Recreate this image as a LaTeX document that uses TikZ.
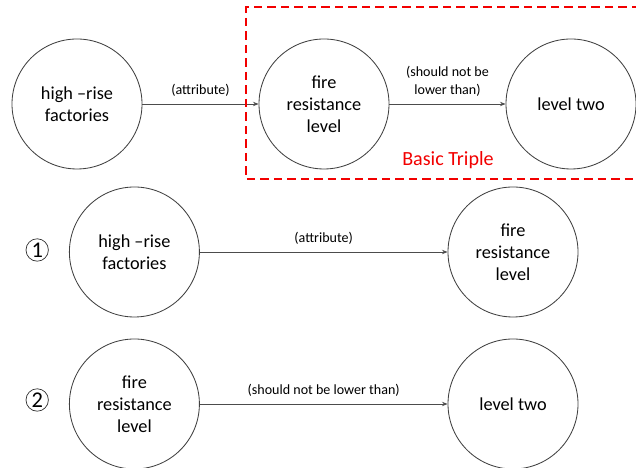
\documentclass[tikz,border=0pt]{standalone}
\usepackage{fontspec}
\setmainfont{Carlito}
\usepackage{xcolor}
\usetikzlibrary{arrows.meta, positioning}

\begin{document}
\begin{tikzpicture}[
    concept/.style={circle, draw=black!75, line width=0.6pt, minimum size=3.25cm, inner sep=0pt, align=center, font=\fontsize{13}{15.6}\selectfont},
    rel/.style={draw=black!70, line width=0.6pt, -{Stealth[length=1.4mm, width=1.1mm]}},
    lbl/.style={font=\fontsize{10}{12.8}\selectfont, align=center, above=0.5mm},
    num/.style={circle, draw=black!80, line width=0.5pt, minimum size=0.56cm, inner sep=0pt, font=\fontsize{16}{16}\selectfont},
    triple/.style={draw=red!95!black, line width=1.3pt, dash pattern=on 6pt off 3.6pt}
]
    \useasboundingbox (0,0) rectangle (15.9,11.7);

    % Basic triple
    \node[concept] (A1) at (1.925, 9.1) {high –rise\\factories};
    \node[concept] (A2) at (8.1, 9.1) {fire\\resistance\\level};
    \node[concept] (A3) at (14.275, 9.1) {level two};

    \draw[rel] (A1) -- node[lbl] {(attribute)} (A2);
    \draw[rel] (A2) -- node[lbl] {(should not be\\lower than)} (A3);

    % Dashed frame
    \coordinate (F1) at (16.0, 11.525);
    \coordinate (F2) at (6.15, 11.525);
    \coordinate (F3) at (6.15, 7.225);
    \coordinate (F4) at (16.0, 7.225);
    \draw[triple] (F1) -- (F2) -- (F3) -- (F4);
    \node[text=red!95!black, font=\fontsize{14.3}{16}\selectfont] (BT) at (11.2, 7.7) {Basic Triple};

    % Triple 1
    \node[num] (N1) at (0.93, 5.45) {1};
    \node[concept] (B1) at (3.36, 5.4) {high –rise\\factories};
    \node[concept] (B2) at (12.825, 5.4) {fire\\resistance\\level};
    \draw[rel] (B1) -- node[lbl] {(attribute)} (B2);

    % Triple 2
    \node[num] (N2) at (0.93, 1.7) {2};
    \node[concept] (C1) at (3.36, 1.6) {fire\\resistance\\level};
    \node[concept] (C2) at (12.825, 1.6) {level two};
    \draw[rel] (C1) -- node[lbl] {(should not be lower than)} (C2);
\end{tikzpicture}
\end{document}
